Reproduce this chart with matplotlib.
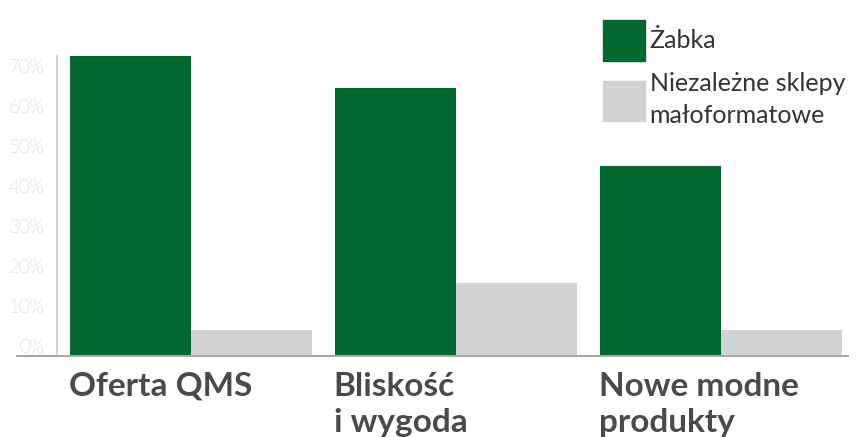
import matplotlib.pyplot as plt
import matplotlib.transforms as mtransforms
from matplotlib.patches import Patch
import numpy as np

# data
categories = ["Oferta QMS", "Bliskość\ni wygoda", "Nowe modne\nprodukty"]
zabka = [75, 67, 47.5]
niezalezne = [6.5, 18.3, 6.5]
series_names = ["Żabka", "Niezależne sklepy\nmałoformatowe"]
yticks = [0, 10, 20, 30, 40, 50, 60, 70]
ytick_labels = [f"{t}%" for t in yticks]

GREEN = "#00682e"
GREY = "#d1d2d4"
TEXT = "#4a4a4a"

plt.rcParams['font.family'] = ['Lato', 'DejaVu Sans']

fig = plt.figure(figsize=(8.66, 4.37), dpi=100)
# axes box in pixels: left 57, right 848, baseline 356, top 36
W, H = 866, 437
ax = fig.add_axes([57 / W, (H - 356) / H, (848 - 57) / W, (356 - 36) / H])

x = np.arange(len(categories))
w = 0.457
ax.bar(x - w / 2, zabka, w, color=GREEN, label=series_names[0])
ax.bar(x + w / 2, niezalezne, w, color=GREY, label=series_names[1])

ax.set_xlim(-0.506, 2.479)
ax.set_ylim(0, 80)

for s in ["top", "right", "bottom"]:
    ax.spines[s].set_visible(False)
ax.spines["left"].set_color("#c8c8c8")
ax.spines["left"].set_linewidth(1.2)
ax.spines["left"].set_bounds(0, 75)
ax.axhline(0, xmin=-0.05, xmax=1.0, color="#a8a8a8", lw=1.5, clip_on=False, zorder=5)

ax.set_yticks(yticks)
ax.set_yticklabels(ytick_labels, fontsize=13.5, color="#9a9a9a", fontweight="light")
ax.tick_params(axis="y", length=0, pad=9)
offset = mtransforms.ScaledTranslation(0, 10 / 100, fig.dpi_scale_trans)
for lab in ax.get_yticklabels():
    lab.set_transform(lab.get_transform() + offset)

ax.set_xticks([])
for xi, cat in zip(x, categories):
    ax.text(xi - w - 0.005, -4, cat, ha="left", va="top", fontsize=24,
            fontweight="bold", color=TEXT, linespacing=1.3,
            transform=ax.transData, clip_on=False)

handles = [Patch(color=GREEN), Patch(color=GREY)]
leg = fig.legend(handles, series_names, loc="upper left",
                 bbox_to_anchor=(580 / W, 1 + 2 / H), frameon=False,
                 fontsize=18, handlelength=1.68, handleheight=2.1,
                 handletextpad=0.2, labelspacing=0.45, labelcolor="#333333")
for t in leg.get_texts():
    t.set_linespacing(1.45)

fig.savefig("out.png", dpi=100)
